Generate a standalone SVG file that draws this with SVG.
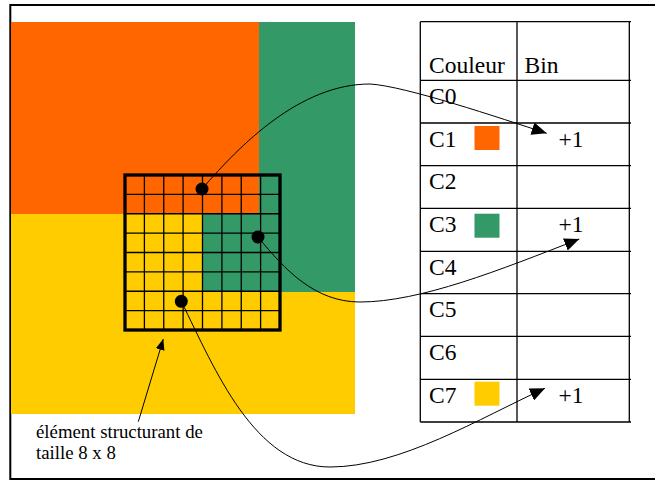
<svg xmlns="http://www.w3.org/2000/svg" width="655" height="480" viewBox="0 0 655 480">
<style>
.t{font-family:"Liberation Serif","Times New Roman",serif;font-size:23.5px;fill:#000}
.lab{font-family:"Liberation Serif","Times New Roman",serif;font-size:18.8px;fill:#000}
.tl{stroke:#000;stroke-width:1.3;fill:none}
.gl{stroke:#000;stroke-width:1.3;fill:none}
.cv{stroke:#000;stroke-width:1;fill:none}
</style>
<defs>
<marker id="ah" markerUnits="userSpaceOnUse" markerWidth="16" markerHeight="13" refX="15" refY="6.5" orient="auto">
<path d="M0,0 L15,6.5 L0,13 z" fill="#000"/>
</marker>
<marker id="ahs" markerUnits="userSpaceOnUse" markerWidth="12" markerHeight="10" refX="11" refY="4.5" orient="auto">
<path d="M0,0 L11,4.5 L0,9 z" fill="#000"/>
</marker>
</defs>
<rect width="655" height="480" fill="#fff"/>
<!-- outer frame -->
<path d="M660,5 H10.3 V479 H660" fill="none" stroke="#000" stroke-width="2"/>

<g id="image">
<rect x="11" y="22" width="248" height="192" fill="#FF6600"/>
<rect x="259" y="22" width="96" height="192" fill="#339966"/>
<rect x="11" y="214" width="344" height="200" fill="#FFCC00"/>
<rect x="202.5" y="214" width="152.5" height="78" fill="#339966"/>
</g>

<g id="structuring-element">
<path class="gl" d="M144.4,175V330M163.75,175V330M183.1,175V330M202.5,175V330M221.9,175V330M241.25,175V330M260.6,175V330M125,194.4H280M125,213.75H280M125,233.1H280M125,252.5H280M125,271.9H280M125,291.25H280M125,310.6H280"/>
<rect x="125" y="175" width="155" height="155" fill="none" stroke="#000" stroke-width="3.3"/>
</g>

<g id="dots">
<circle cx="202" cy="189" r="6.5" fill="#000"/>
<circle cx="258" cy="237" r="6.5" fill="#000"/>
<circle cx="181.3" cy="301.3" r="6.5" fill="#000"/>
</g>

<g id="table">
<path class="tl" d="M420.3,21.7V422M517,21.7V422M629.3,21.7V422"/>
<path class="tl" d="M420.3,21.7H631M420.3,80.3H631M420.3,123H631M420.3,165.7H631M420.3,208.3H631M420.3,251.3H631M420.3,293.7H631M420.3,336.3H631M420.3,379.3H631M420.3,422H631"/>
<text class="t" x="429" y="72.5">Couleur</text>
<text class="t" x="524.5" y="72.5">Bin</text>
<text class="t" x="429" y="104">C0</text>
<text class="t" x="429" y="146.7">C1</text>
<text class="t" x="429" y="189.3">C2</text>
<text class="t" x="429" y="232">C3</text>
<text class="t" x="429" y="274.7">C4</text>
<text class="t" x="429" y="317.3">C5</text>
<text class="t" x="429" y="360">C6</text>
<text class="t" x="429" y="402.7">C7</text>
<rect x="474.5" y="126" width="25" height="24" fill="#FF6600"/>
<rect x="474.5" y="213.7" width="25" height="24" fill="#339966"/>
<rect x="474.5" y="381.7" width="25" height="24" fill="#FFCC00"/>
<text class="t" x="558.5" y="146.7">+1</text>
<text class="t" x="558.5" y="232">+1</text>
<text class="t" x="558.5" y="402.7">+1</text>
</g>

<g id="connectors">
<path class="cv" d="M202,189 C240,145 300,84 370,84 C405,86 500,118 546.7,133.3" marker-end="url(#ah)"/>
<path class="cv" d="M258,237 C285,270 315,302 360,302 C420,302 500,270 579.3,239" marker-end="url(#ah)"/>
<path class="cv" d="M181.3,301.3 C215,370 255,467 330,467 C400,467 480,418 545,388.3" marker-end="url(#ah)"/>
<path class="cv" d="M138.3,421.7 L163.3,339" marker-end="url(#ahs)"/>
</g>

<g id="label">
<text class="lab" x="36" y="437.7">élément structurant de</text>
<text class="lab" x="36" y="459.3">taille 8 x 8</text>
</g>
</svg>
